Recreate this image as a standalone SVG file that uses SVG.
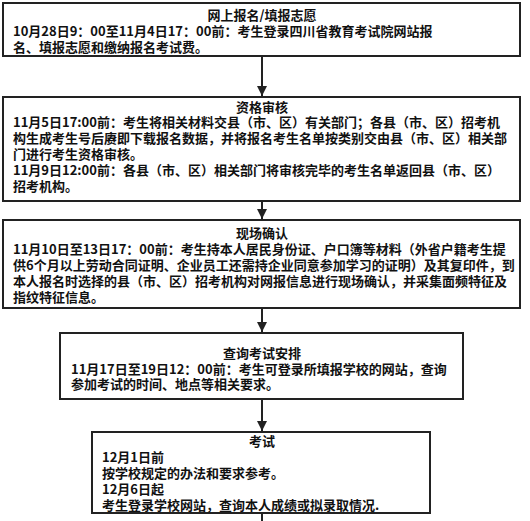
<svg xmlns="http://www.w3.org/2000/svg" width="530" height="521" viewBox="0 0 530 521">
<style>
.box{fill:#fff;stroke:#222;stroke-width:2}
.t{font-family:"Noto Sans CJK SC","Noto Sans",sans-serif;font-size:13px;font-weight:bold;fill:#111}
.c{text-anchor:middle}
.con{stroke:#222;stroke-width:2;fill:none}
</style>
<defs>
<marker id="ah" markerWidth="10" markerHeight="10" refX="10" refY="5" orient="auto" markerUnits="userSpaceOnUse">
<path d="M0,0 L10,5 L0,10 Z" fill="#222"/>
</marker>
</defs>
<rect width="530" height="521" fill="#fff"/>
<g id="connectors">
<line class="con" x1="262" y1="57" x2="262" y2="96" marker-end="url(#ah)"/>
<line class="con" x1="262" y1="202" x2="262" y2="219" marker-end="url(#ah)"/>
<line class="con" x1="262" y1="309" x2="262" y2="332" marker-end="url(#ah)"/>
<line class="con" x1="262" y1="400" x2="262" y2="431" marker-end="url(#ah)"/>
<line class="con" x1="262" y1="514" x2="262" y2="521"/>
</g>
<g id="n1">
<rect class="box" x="3" y="3" width="517" height="53"/>
<text class="t"><tspan class="c" x="262" y="20">网上报名/填报志愿</tspan><tspan x="13" y="36">10月28日9：00至11月4日17：00前：考生登录四川省教育考试院网站报</tspan><tspan x="13" y="52">名、填报志愿和缴纳报名考试费。</tspan></text>
</g>
<g id="n2">
<rect class="box" x="3" y="97" width="517" height="104"/>
<text class="t"><tspan class="c" x="262" y="112">资格审核</tspan><tspan x="13" y="127">11月5日17:00前：考生将相关材料交县（市、区）有关部门；各县（市、区）招考机</tspan><tspan x="13" y="143">构生成考生号后赓即下载报名数据，并将报名考生名单按类别交由县（市、区）相关部</tspan><tspan x="13" y="159">门进行考生资格审核。</tspan><tspan x="13" y="175">11月9日12:00前：各县（市、区）相关部门将审核完毕的考生名单返回县（市、区）</tspan><tspan x="13" y="191">招考机构。</tspan></text>
</g>
<g id="n3">
<rect class="box" x="3" y="220" width="517" height="88"/>
<text class="t"><tspan class="c" x="262" y="238">现场确认</tspan><tspan x="13" y="254">11月10日至13日17：00前：考生持本人居民身份证、户口簿等材料（外省户籍考生提</tspan><tspan x="13" y="270">供6个月以上劳动合同证明、企业员工还需持企业同意参加学习的证明）及其复印件，到</tspan><tspan x="13" y="286">本人报名时选择的县（市、区）招考机构对网报信息进行现场确认，并采集面频特征及</tspan><tspan x="13" y="302">指纹特征信息。</tspan></text>
</g>
<g id="n4">
<rect class="box" x="60" y="333" width="403" height="66"/>
<text class="t"><tspan class="c" x="262" y="358">查询考试安排</tspan><tspan x="71" y="374">11月17日至19日12：00前：考生可登录所填报学校的网站，查询</tspan><tspan x="71" y="389">参加考试的时间、地点等相关要求。</tspan></text>
</g>
<g id="n5">
<rect class="box" x="92" y="432" width="338" height="81"/>
<text class="t"><tspan class="c" x="262" y="446">考试</tspan><tspan x="102" y="462">12月1日前</tspan><tspan x="102" y="478">按学校规定的办法和要求参考。</tspan><tspan x="102" y="494">12月6日起</tspan><tspan x="102" y="510">考生登录学校网站，查询本人成绩或拟录取情况.</tspan></text>
</g>
</svg>
